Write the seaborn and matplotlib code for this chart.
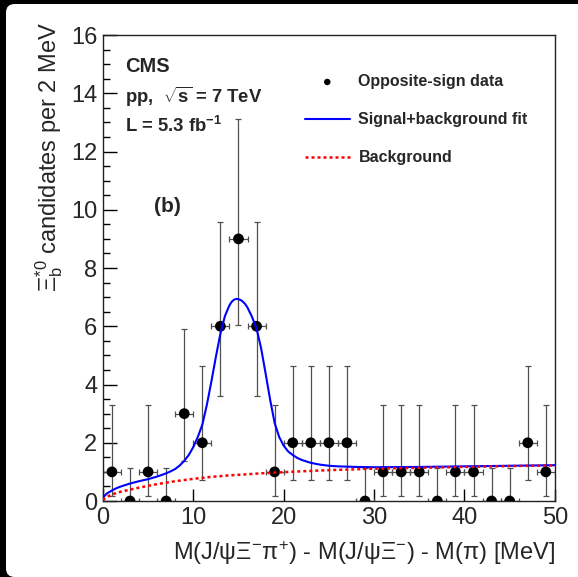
import numpy as np
import matplotlib
matplotlib.use("Agg")
import matplotlib.pyplot as plt
from matplotlib.patches import FancyBboxPatch
from matplotlib.ticker import MultipleLocator, NullLocator
import seaborn as sns

# data: 2 MeV bins, counts with asymmetric Poisson errors
bin_centers = [1, 3, 5, 7, 9, 11, 13, 15, 17, 19, 21, 23, 25,
               27, 29, 31, 33, 35, 37, 39, 41, 43, 45, 47, 49]
counts = [1, 0, 1, 0, 3, 2, 6, 9, 6, 1, 2, 2, 2,
          2, 0, 1, 1, 1, 0, 1, 1, 0, 0, 2, 1]
err_low = [0.83, 0, 0.83, 0, 1.63, 1.29, 2.38, 2.94, 2.38, 0.83, 1.29, 1.29, 1.29,
           1.29, 0, 0.83, 0.83, 0.83, 0, 0.83, 0.83, 0, 0, 1.29, 0.83]
err_high = [2.30, 1.15, 2.30, 1.15, 2.92, 2.64, 3.58, 4.11, 3.58, 2.30, 2.64, 2.64, 2.64,
            2.64, 1.15, 2.30, 2.30, 2.30, 1.15, 2.30, 2.30, 1.15, 1.15, 2.64, 2.30]
bin_half_width = 1.0

# signal+background fit curve
fit_x = [0, 0.25, 0.5, 1, 1.5, 2, 3, 4, 5, 6, 7, 7.5, 8, 8.5, 9, 9.5, 10, 10.5,
         11, 11.5, 12, 12.5, 13, 13.5, 14, 14.25, 14.5, 14.75, 15, 15.25, 15.5,
         15.75, 16, 16.5, 17, 17.5, 18, 18.5, 19, 19.5, 20, 20.5, 21, 21.5, 22,
         23, 24, 25, 26, 28, 30, 35, 40, 45, 50]
fit_y = [0.10, 0.20, 0.27, 0.36, 0.44, 0.50, 0.60, 0.68, 0.75, 0.84, 0.95, 1.02,
         1.10, 1.22, 1.38, 1.58, 1.85, 2.20, 2.62, 3.30, 4.10, 4.95, 5.75, 6.35,
         6.72, 6.84, 6.91, 6.94, 6.93, 6.90, 6.84, 6.76, 6.64, 6.32, 5.92, 5.25,
         4.38, 3.48, 2.68, 2.20, 1.90, 1.70, 1.58, 1.48, 1.41, 1.31, 1.25, 1.21,
         1.19, 1.17, 1.16, 1.17, 1.19, 1.21, 1.23]

# background only
bkg_x = [0, 0.25, 0.5, 1, 1.5, 2, 3, 4, 5, 6, 7, 8, 10, 12, 14, 16, 18, 20,
         22, 25, 28, 30, 35, 40, 45, 50]
bkg_y = [0.03, 0.10, 0.15, 0.22, 0.28, 0.32, 0.39, 0.46, 0.52, 0.58, 0.63, 0.68,
         0.76, 0.83, 0.88, 0.92, 0.96, 0.99, 1.02, 1.06, 1.09, 1.11, 1.14, 1.17,
         1.20, 1.22]

sns.set_theme(style="ticks")
plt.rcParams["font.family"] = ["Liberation Sans", "DejaVu Sans"]
plt.rcParams["mathtext.fontset"] = "custom"
plt.rcParams["mathtext.rm"] = "Liberation Sans"
plt.rcParams["mathtext.it"] = "Liberation Sans:italic"
plt.rcParams["mathtext.bf"] = "Liberation Sans:bold"
plt.rcParams["mathtext.sf"] = "Liberation Sans"

fig = plt.figure(figsize=(5.78, 5.77), dpi=100)
fig.patch.set_facecolor("black")
# white page with rounded corner on a black screen edge
page = FancyBboxPatch((6 / 578, 0), 1.2, 1 - 4 / 577,
                      boxstyle="round,pad=0,rounding_size=0.015",
                      transform=fig.transFigure, facecolor="white",
                      edgecolor="none", zorder=-10)
fig.patches.append(page)

ax = fig.add_axes([0.178, 0.1317, 0.782, 0.8076])
ax.set_facecolor("white")

ax.errorbar(bin_centers, counts, yerr=[err_low, err_high], xerr=bin_half_width,
            fmt="none", ecolor="#505050", elinewidth=0.9, capsize=2.2,
            capthick=0.9, zorder=2)
sns.scatterplot(x=bin_centers, y=counts, color="black", s=60, edgecolor="none",
                ax=ax, zorder=3)
data_handle = ax.collections[-1]

sns.lineplot(x=fit_x, y=fit_y, color="#0000ff", linewidth=1.5, ax=ax, zorder=4)
fit_handle = ax.lines[-1]
sns.lineplot(x=bkg_x, y=bkg_y, color="#ff0000", linewidth=1.8,
             linestyle=(0, (1.2, 1.2)), ax=ax, zorder=4)
bkg_handle = ax.lines[-1]

ax.set_xlim(0, 50)
ax.set_ylim(0, 16)
ax.xaxis.set_major_locator(MultipleLocator(10))
ax.xaxis.set_minor_locator(NullLocator())
ax.yaxis.set_major_locator(MultipleLocator(2))
ax.yaxis.set_minor_locator(MultipleLocator(0.5))
ax.tick_params(axis="both", which="both", direction="in", top=False, right=False,
               labelsize=17, pad=4, width=1, color="black")
ax.tick_params(axis="y", which="major", length=10)
ax.tick_params(axis="y", which="minor", length=5)
ax.tick_params(axis="x", which="major", length=9)
for sp in ax.spines.values():
    sp.set_color("#222222")
    sp.set_linewidth(1.0)

ax.set_xlabel(r"M(J/ψΞ$^{-}$π$^{+}$) - M(J/ψΞ$^{-}$) - M(π) [MeV]",
              fontsize=17, loc="right")
ax.xaxis.set_label_coords(1.0, -0.082)
ax.set_ylabel(r"$\Xi_{\mathrm{b}}^{*0}$ candidates per 2 MeV", fontsize=17, loc="top")
ax.yaxis.set_label_coords(-0.084, 1.028)

ax.text(0.049, 0.933, "CMS", transform=ax.transAxes, fontsize=14.5,
        fontweight="bold", va="center", ha="left")
ax.text(0.049, 0.868, r"pp,  $\sqrt{\mathbf{s}}$ = 7 TeV", transform=ax.transAxes,
        fontsize=13.3, fontweight="bold", va="center", ha="left")
ax.text(0.049, 0.804, r"L = 5.3 fb$^{\mathbf{-1}}$", transform=ax.transAxes,
        fontsize=13.3, fontweight="bold", va="center", ha="left")
ax.text(0.142, 0.631, "(b)", transform=ax.transAxes, fontsize=15,
        fontweight="bold", va="center", ha="center")

ax.legend([data_handle, fit_handle, bkg_handle],
          ["Opposite-sign data", "Signal+background fit", "Background"],
          loc="upper left", bbox_to_anchor=(0.447, 0.916), frameon=False,
          borderpad=0, borderaxespad=0, handlelength=2.8, handletextpad=0.55,
          labelspacing=1.45, markerscale=0.6,
          prop={"weight": "bold", "size": 11.5})

fig.savefig("out.png", dpi=100, facecolor=fig.get_facecolor())
